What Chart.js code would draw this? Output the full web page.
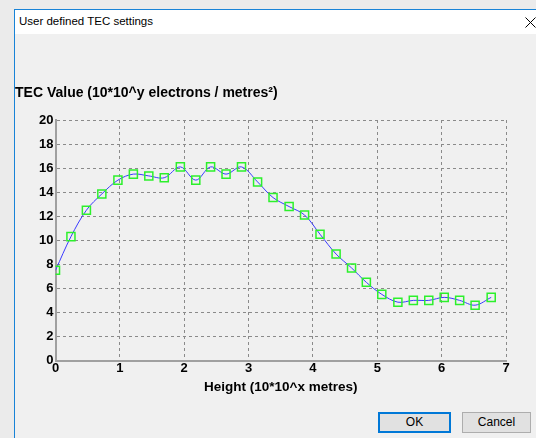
<!DOCTYPE html>
<html>
<head>
<meta charset="utf-8">
<script src="https://cdn.jsdelivr.net/npm/chart.js@4/dist/chart.umd.min.js"></script>
<style>
  html, body { margin:0; padding:0; width:536px; height:438px; overflow:hidden; background:#ebebeb; }
  #win { position:absolute; left:14px; top:9px; width:530px; height:440px; background:#f0f0f0; border-left:1px solid #1883d7; border-top:1px solid #1883d7; }
  #titlebar { position:absolute; left:0; top:0; right:0; height:24px; background:#ffffff; }
  #titletext { position:absolute; left:4px; top:5px; font:11.5px "Liberation Sans", Arial, sans-serif; color:#000; }
  #closex { position:absolute; left:510px; top:7px; }
  canvas { position:absolute; left:0; top:0; }
  .btn { position:absolute; top:412px; height:21px; background:#e1e1e1; font:12px "Liberation Sans", Arial, sans-serif; color:#000; text-align:center; line-height:21px; box-sizing:border-box; }
  #ok { left:378px; width:73px; border:2px solid #0078d7; line-height:17px; }
  #cancel { left:462px; width:69px; border:1px solid #adadad; line-height:19px; }
</style>
</head>
<body>
<div id="win">
  <div id="titlebar">
    <div id="titletext">User defined TEC settings</div>
    <svg id="closex" width="11" height="11" viewBox="0 0 11 11"><path d="M0.5 0.5 L10.5 10.5 M10.5 0.5 L0.5 10.5" stroke="#000" stroke-width="1"/></svg>
  </div>
</div>
<canvas id="c" width="536" height="438"></canvas>
<div class="btn" id="ok">OK</div>
<div class="btn" id="cancel">Cancel</div>
<script>
const heights = [0, 0.24, 0.48, 0.72, 0.97, 1.21, 1.45, 1.69, 1.94, 2.18, 2.41, 2.65, 2.89, 3.14, 3.38, 3.63, 3.87, 4.11, 4.36, 4.60, 4.83, 5.07, 5.32, 5.56, 5.80, 6.04, 6.28, 6.52, 6.77];
const tecValues = [7.5, 10.3, 12.5, 13.85, 15.0, 15.5, 15.35, 15.2, 16.1, 15.0, 16.1, 15.5, 16.1, 14.85, 13.55, 12.8, 12.1, 10.5, 8.85, 7.7, 6.5, 5.5, 4.85, 5.0, 5.0, 5.25, 5.0, 4.6, 5.25];
const yTitle = "TEC Value (10*10^y electrons / metres\u00B2)";
const xTitle = "Height (10*10^x metres)";
const xTicks = [0, 1, 2, 3, 4, 5, 6, 7];
const yTicks = [0, 2, 4, 6, 8, 10, 12, 14, 16, 18, 20];

const points = heights.map((h, i) => ({ x: h, y: tecValues[i] }));
const tickFont = { family: "Liberation Sans, Arial, sans-serif", size: 13, weight: "bold" };

new Chart(document.getElementById('c'), {
  type: 'line',
  data: {
    datasets: [{
      data: points,
      borderColor: '#3a3aff',
      borderWidth: 1,
      tension: 0.35,
      fill: false,
      pointStyle: 'rect',
      pointRadius: 5.7,
      pointBorderColor: '#2cf02c',
      pointBackgroundColor: 'rgba(0,0,0,0)',
      pointBorderWidth: 1.5
    }]
  },
  options: {
    responsive: false,
    animation: false,
    layout: { padding: { left: 15, top: 84, right: 30, bottom: 0 } },
    plugins: {
      legend: { display: false },
      tooltip: { enabled: false },
      title: {
        display: true,
        text: yTitle,
        align: 'start',
        color: '#000',
        font: { family: "Liberation Sans, Arial, sans-serif", size: 14, weight: "bold" },
        padding: { top: 1, bottom: 18.2 }
      }
    },
    scales: {
      x: {
        type: 'linear',
        min: xTicks[0], max: xTicks[xTicks.length - 1],
        afterBuildTicks: s => { s.ticks = xTicks.map(v => ({ value: v })); },
        afterFit: s => { s.height = 77.5; },
        ticks: { color: '#000', font: tickFont, padding: 0, maxRotation: 0 },
        grid: { color: '#8a8a8a', drawTicks: false, lineWidth: 1 },
        border: { display: true, color: '#a0a0a0', width: 2, dash: [3, 3] },
        title: {
          display: true, text: xTitle, color: '#000',
          font: { family: "Liberation Sans, Arial, sans-serif", size: 13.5, weight: "bold" },
          padding: { top: 0, bottom: 43 }
        }
      },
      y: {
        type: 'linear',
        min: yTicks[0], max: yTicks[yTicks.length - 1],
        afterBuildTicks: s => { s.ticks = yTicks.map(v => ({ value: v })); },
        afterFit: s => { s.width = 40.5; },
        ticks: { color: '#000', font: tickFont, padding: 2 },
        grid: { color: '#8a8a8a', drawTicks: false, lineWidth: 1 },
        border: { display: true, color: '#a0a0a0', width: 2, dash: [3, 3] }
      }
    }
  }
});
</script>
</body>
</html>
